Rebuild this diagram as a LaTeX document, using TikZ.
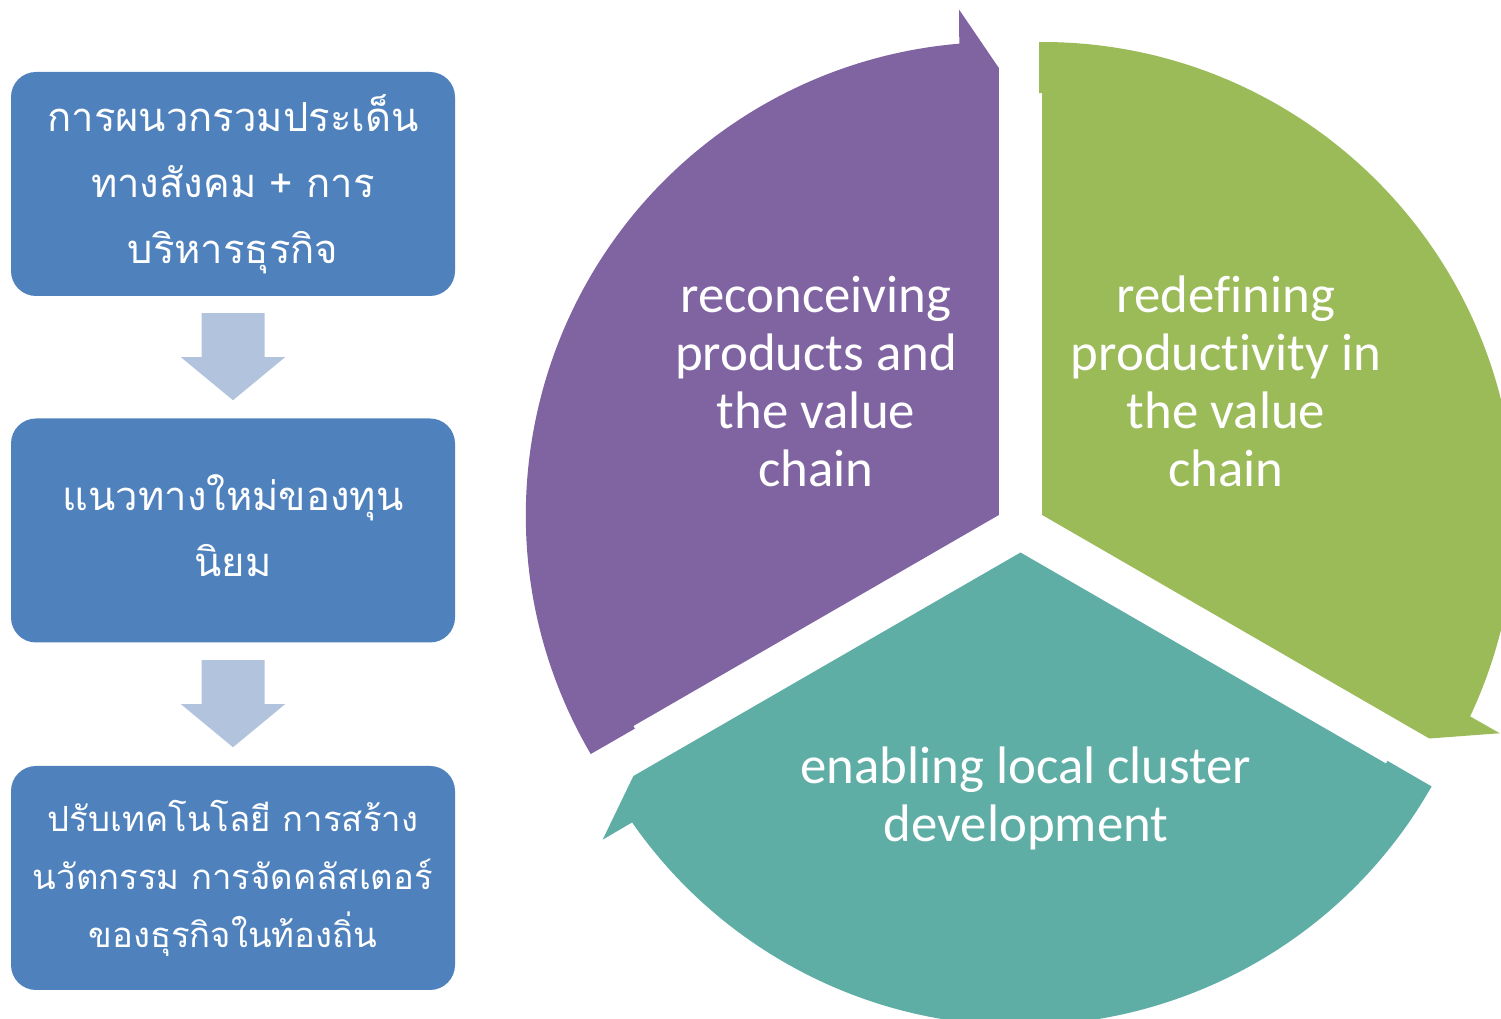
\documentclass[tikz,border=0pt]{standalone}
\usepackage{fontspec}
\setmainfont{Carlito}[Ligatures={NoCommon,NoRare,NoContextual}]
\newfontfamily\thaifont[Script=Thai]{Loma}
\usetikzlibrary{calc}
\definecolor{cpurple}{HTML}{8064A2}
\definecolor{cgreen}{HTML}{9BBB59}
\definecolor{cteal}{HTML}{5FAEA6}
\definecolor{cblue}{HTML}{4F81BD}
\definecolor{carrow}{HTML}{B2C3DE}
\newcommand\cycsegment[3]{%
  \begin{scope}[shift={#2}]
    \pgfmathsetmacro\segts{#3+120}
    \fill[#1] (0,0) -- (\segts:422pt) -- (\segts+0.41:422pt) -- (\segts+0.36:473pt)
      arc[start angle=\segts+0.36, end angle=#3+4.8, radius=473pt]
      -- (#3+4.5:507pt) -- (#3:447pt) -- cycle;
  \end{scope}}
\begin{document}
\begin{tikzpicture}[x=1pt,y=1pt,
  box/.style={fill=cblue, rounded corners=25pt, minimum width=444pt, minimum height=224pt, inner sep=0pt, text=white, align=center},
  thaiA/.style={font=\thaifont\fontsize{40}{66}\selectfont},
  thaiB/.style={font=\thaifont\fontsize{34.7}{58}\selectfont},
  cyc/.style={text=white, align=center, inner sep=0pt, font=\fontsize{52.8}{58.3}\selectfont},
  downarrow/.style={fill=carrow, draw=none}]
\useasboundingbox (0,0) rectangle (1501,1019);
\clip (0,0) rectangle (1501,1019);

% cycle segments
\cycsegment{cpurple}{(998.85,504)}{90}
\cycsegment{cgreen}{(1042.15,504)}{-30}
\cycsegment{cteal}{(1020.5,466.5)}{210}

\node[cyc] (tpurple) at (816,631.2) {\strut reconceiving\\products and\\the value\\chain\strut};
\node[cyc] (tgreen) at (1226,631.2) {\strut redefining\\productivity in\\the value\\chain\strut};
\node[cyc] (tteal) at (1026,218.2) {\strut enabling local cluster\\development\strut};

% left flow
\node[box, thaiA] (b1) at (233,835) {\strut การผนวกรวมประเด็น\\ทางสังคม + การ\\บริหารธุรกิจ\strut};
\node[box, thaiA] (b2) at (233,488.5) {\strut แนวทางใหม่ของทุน\\นิยม\strut};
\node[box, thaiB] (b3) at (233,141) {\strut ปรับเทคโนโลยี การสร้าง\\นวัตกรรม การจัดคลัสเตอร์\\ของธุรกิจในท้องถิ่น\strut};

\coordinate (a1) at ($(b1.south)!0.5!(b2.north)$);
\coordinate (a2) at ($(b2.south)!0.5!(b3.north)$);
\fill[downarrow, shift={(a1)}] (-31.5,44) -- (31.5,44) -- (31.5,0) -- (52,0) -- (0,-43) -- (-52,0) -- (-31.5,0) -- cycle;
\fill[downarrow, shift={(a2)}] (-31.5,44) -- (31.5,44) -- (31.5,0) -- (52,0) -- (0,-43) -- (-52,0) -- (-31.5,0) -- cycle;
\end{tikzpicture}
\end{document}
